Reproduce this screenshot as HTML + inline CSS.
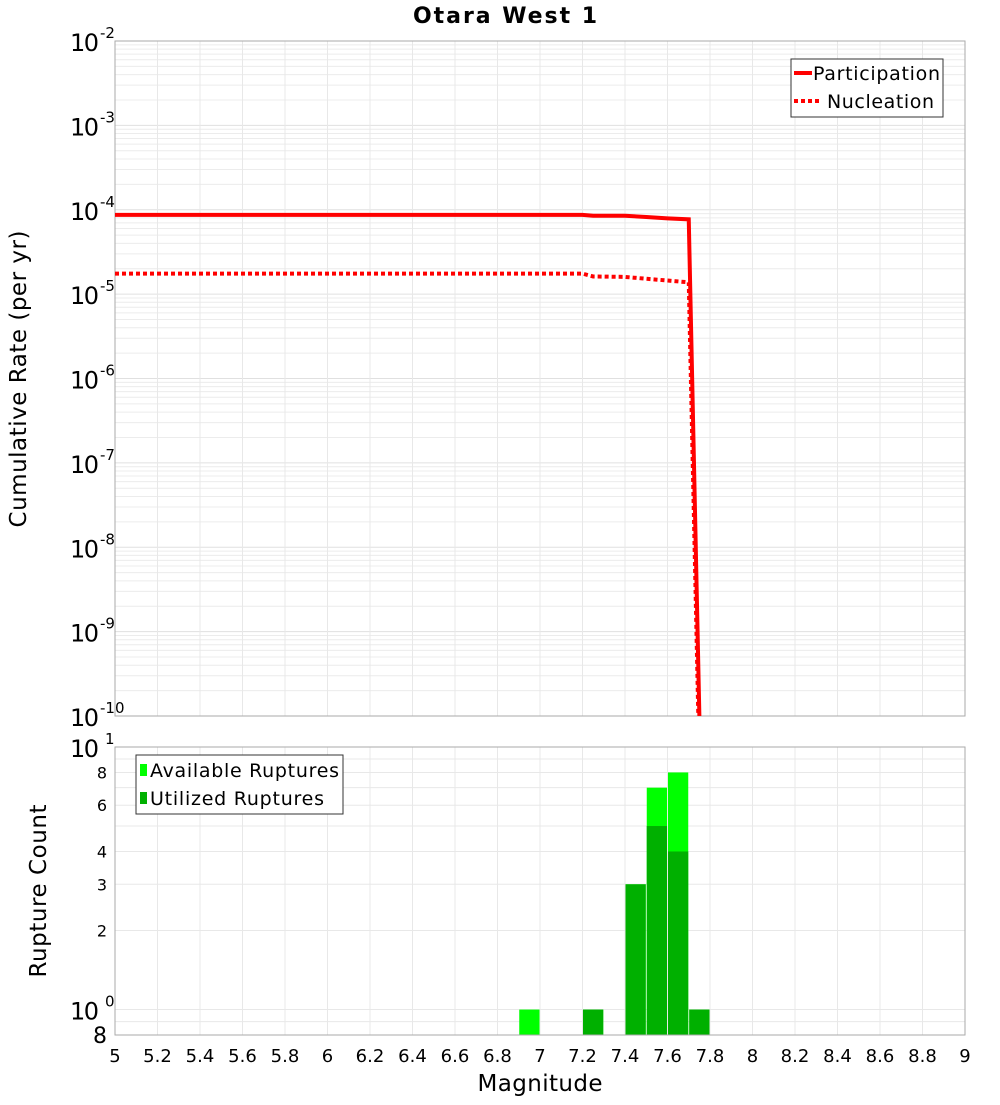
<!DOCTYPE html>
<html><head><meta charset="utf-8"><style>
body{margin:0;background:#fff;}
svg text{font-family:"DejaVu Sans","Liberation Sans",sans-serif;fill:#000;}
</style></head><body>
<svg id="c" width="1000" height="1100" xmlns="http://www.w3.org/2000/svg"></svg>
<script>
const partMags=[5,7.2,7.25,7.4,7.5,7.6,7.7,7.75];
const partRates=[8.7e-5,8.7e-5,8.5e-5,8.5e-5,8.2e-5,7.9e-5,7.7e-5,1e-10];
const nuclMags=[5,7.2,7.25,7.4,7.5,7.6,7.7,7.745];
const nuclRates=[1.75e-5,1.75e-5,1.62e-5,1.6e-5,1.52e-5,1.45e-5,1.38e-5,1e-10];
const binCenters=[6.95,7.25,7.45,7.55,7.65,7.75];
const availCounts=[1,1,3,7,8,1];
const utilCounts=[0,1,3,5,4,1];
const xTicks=[5,5.2,5.4,5.6,5.8,6,6.2,6.4,6.6,6.8,7,7.2,7.4,7.6,7.8,8,8.2,8.4,8.6,8.8,9];
const xTickLabels=["5","5.2","5.4","5.6","5.8","6","6.2","6.4","6.6","6.8","7","7.2","7.4","7.6","7.8","8","8.2","8.4","8.6","8.8","9"];
const topExps=[-2,-3,-4,-5,-6,-7,-8,-9,-10];
const botTicks=[0.8,2,3,4,6,8];
const botTickLabels=["8","2","3","4","6","8"];

const NS="http://www.w3.org/2000/svg";
const svg=document.getElementById('c');
function el(t,a,txt){const e=document.createElementNS(NS,t);for(const k in a)e.setAttribute(k,a[k]);if(txt!=null)e.textContent=txt;svg.appendChild(e);return e;}
const X0=115,X1=965;
const x=m=>X0+(m-5)/4*(X1-X0);
const T0=41,T1=716;
const yT=v=>T0+(-2-Math.log10(v))*(T1-T0)/8;
const B0=747,B1=1035,Bdec=(B1-B0)/(1-Math.log10(0.8));
const yB=v=>B0+(1-Math.log10(v))*Bdec;

for(let e=-10;e<-2;e++)for(let k=1;k<10;k++){const v=k*Math.pow(10,e);const g=el('line',{x1:X0,x2:X1,y1:yT(v),y2:yT(v),stroke:k==1?'#e0e0e0':'#ececec','stroke-width':1});

}
xTicks.forEach(m=>{const g=el('line',{x1:x(m),x2:x(m),y1:T0,y2:T1,stroke:'#e8e8e8'});

});
const tf=el('rect',{x:X0,y:T0,width:X1-X0,height:T1-T0,fill:'none',stroke:'#aaa'});



topExps.forEach(e=>{const y=yT(Math.pow(10,e));
const t=el('text',{x:70,y:y+10,'font-size':24,'textLength':29},'10');


const s=el('text',{x:100,y:y-3,'font-size':15},'\u2212'.replace('\u2212','-')+String(-e));

});

const defs=el('defs',{});
const cp=document.createElementNS(NS,'clipPath');cp.setAttribute('id','cp');
const cr=document.createElementNS(NS,'rect');cr.setAttribute('x',X0);cr.setAttribute('y',T0);cr.setAttribute('width',X1-X0);cr.setAttribute('height',T1-T0);
cp.appendChild(cr);defs.appendChild(cp);
function pts(ms,vs){return ms.map((m,i)=>x(m)+','+yT(vs[i])).join(' ');}
const nl=el('polyline',{points:pts(nuclMags,nuclRates),fill:'none',stroke:'#f00','stroke-width':4,'stroke-dasharray':'4,3','clip-path':'url(#cp)'});


const pl=el('polyline',{points:pts(partMags,partRates),fill:'none',stroke:'#f00','stroke-width':4,'clip-path':'url(#cp)'});



const lg=el('rect',{x:791,y:59,width:152,height:58,fill:'#fff',stroke:'#333'});


el('line',{x1:794,x2:812,y1:73,y2:73,stroke:'#f00','stroke-width':4});
const l1=el('text',{x:813,y:80,'font-size':19,'textLength':127},'Participation');


el('line',{x1:794,x2:822,y1:101,y2:101,stroke:'#f00','stroke-width':4,'stroke-dasharray':'4,3'});
const l2=el('text',{x:827,y:108,'font-size':19,'textLength':107},'Nucleation');



const ti=el('text',{x:505,y:23,'font-size':22,'font-weight':'bold','text-anchor':'middle','textLength':184},'Otara West 1');


const yt=el('text',{x:0,y:0,'font-size':23,'text-anchor':'middle','textLength':297,transform:'translate(26,379) rotate(-90)'},'Cumulative Rate (per yr)');



[0.8,0.9,1,2,3,4,5,6,7,8,9,10].forEach(v=>{const g=el('line',{x1:X0,x2:X1,y1:yB(v),y2:yB(v),stroke:'#e8e8e8'});

});
xTicks.forEach(m=>{const g=el('line',{x1:x(m),x2:x(m),y1:B0,y2:B1,stroke:'#e8e8e8'});

});

const bw=(X1-X0)/40;
binCenters.forEach((c,i)=>{
 if(availCounts[i]>0){const r=el('rect',{x:x(c)-bw/2+0.5,y:yB(availCounts[i]),width:bw-1,height:B1-yB(availCounts[i]),fill:'#00ff00'});
 
 }
 if(utilCounts[i]>0){const r=el('rect',{x:x(c)-bw/2+0.5,y:yB(utilCounts[i]),width:bw-1,height:B1-yB(utilCounts[i]),fill:'#00b000'});
 
 }
});
const bf=el('rect',{x:X0,y:B0,width:X1-X0,height:B1-B0,fill:'none',stroke:'#aaa'});



[[10,'1'],[1,'0']].forEach(([v,e])=>{const y=yB(v);
const t=el('text',{x:70,y:y+10,'font-size':24,'textLength':29},'10');


const s=el('text',{x:105,y:y-3,'font-size':15},e);

});
botTicks.forEach((v,i)=>{const big=v<1;
const t=el('text',{x:107,y:yB(v)+(big?8:6),'font-size':big?22:16,'text-anchor':'end'},botTickLabels[i]);

});

const lg2=el('rect',{x:136,y:755,width:207,height:59,fill:'#fff',stroke:'#333'});


el('rect',{x:140,y:764,width:7,height:12,fill:'#00ff00'});
const b1=el('text',{x:150,y:777,'font-size':19,'textLength':189},'Available Ruptures');


el('rect',{x:140,y:792,width:7,height:12,fill:'#00b000'});
const b2=el('text',{x:150,y:805,'font-size':19,'textLength':174},'Utilized Ruptures');



xTicks.forEach((m,i)=>{const t=el('text',{x:x(m),y:1062,'font-size':18,'text-anchor':'middle'},xTickLabels[i]);

});
const xt=el('text',{x:540,y:1091,'font-size':23,'text-anchor':'middle','textLength':125},'Magnitude');


const yt2=el('text',{x:0,y:0,'font-size':23,'text-anchor':'middle','textLength':173,transform:'translate(46,891) rotate(-90)'},'Rupture Count');


</script>
</body></html>
